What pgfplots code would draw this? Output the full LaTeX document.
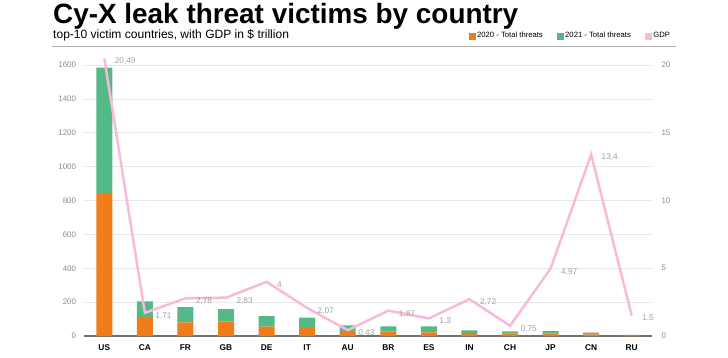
\documentclass[border=0pt]{standalone}
\usepackage{pgfplots}
\usepackage{pgfplotstable}
\pgfplotsset{compat=1.18}
\usepackage{fontspec}
\setmainfont{Liberation Sans}
\definecolor{cOrange}{HTML}{F07D1A}
\definecolor{cGreen}{HTML}{55B887}
\definecolor{cPink}{HTML}{F8B9DA}
\definecolor{cTick}{HTML}{8A8A8A}
\definecolor{cLab}{HTML}{A0A0A0}
\definecolor{cGrid}{HTML}{E8E8E8}
\definecolor{cBase}{HTML}{707070}
\definecolor{cRule}{HTML}{B0B0B0}

\pgfplotstableread{
x t2020 t2021 gdp lab
0  845 740 20.49 20,49
1  113  91  1.71 1,71
2   80  91  2.78 2,78
3   86  73  2.83 2,83
4   55  63  4.00 4
5   47  61  2.07 2,07
6   29  34  0.43 0,43
7   27  30  1.87 1,87
8   22  35  1.30 1,3
9   18  15  2.72 2,72
10  14  14  0.75 0,75
11  16  13  4.97 4,97
12   9  11 13.40 13,4
13   4   2  1.50 1,5
}\data

\begin{document}
\begin{tikzpicture}[x=1bp,y=1bp]
\path[use as bounding box] (0,0) rectangle (728,357);
\node[anchor=base west, inner sep=0pt, font=\fontsize{28}{30}\selectfont\bfseries] at (53,333.5) {Cy-X leak threat victims by country};
\node[anchor=base west, inner sep=0pt, font=\fontsize{12.1}{14}\selectfont] at (53,319) {top-10 victim countries, with GDP in \$ trillion};
\draw[cRule, line width=1.5bp] (52,310.3) -- (676,310.3);

\begin{axis}[
  at={(84bp,21bp)}, anchor=south west,
  width=568bp, height=287.9bp, scale only axis,
  xmin=-0.5, xmax=13.5, ymin=0, ymax=1700,
  ybar stacked, bar width=16bp,
  xtick=data, xticklabels={US,CA,FR,GB,DE,IT,AU,BR,ES,IN,CH,JP,CN,RU},
  ytick={0,200,...,1600},
  ymajorgrids, grid style={cGrid, line width=0.8bp},
  axis y line*=left, axis x line*=bottom,
  y axis line style={draw=none},
  x axis line style={cBase, line width=1.5bp, -},
  major tick length=0pt,
  /pgf/number format/1000 sep={},
  /pgf/number format/assume math mode=true,
  yticklabel style={font=\fontsize{8}{9}\selectfont, text=cTick, xshift=-4.4bp},
  xticklabel style={font=\fontsize{8.4}{9}\selectfont\bfseries, text=black, yshift=-5.3bp},
  clip=false,
]
\addplot[fill=cOrange, draw=none] table[x=x, y=t2020]{\data};
\addplot[fill=cGreen, draw=none] table[x=x, y=t2021]{\data};
\end{axis}

\begin{axis}[
  at={(84bp,21bp)}, anchor=south west,
  width=568bp, height=287.9bp, scale only axis,
  xmin=-0.5, xmax=13.5, ymin=0, ymax=21.25,
  axis y line*=right, axis x line=none,
  y axis line style={draw=none},
  ytick={0,5,...,20},
  major tick length=0pt,
  /pgf/number format/assume math mode=true,
  yticklabel style={font=\fontsize{8}{9}\selectfont, text=cTick, xshift=6bp},
  clip=false,
  legend style={at={(1.035,1.043)}, anchor=east, draw=none, fill=none,
    inner sep=0pt, outer sep=0pt,
    font=\fontsize{7.7}{9}\selectfont,
    /tikz/every even column/.append style={column sep=12bp}},
  legend columns=3, legend cell align=left,
  legend image code/.code={\fill[#1] (0bp,-3bp) rectangle (6bp,3bp);},
]
\addlegendimage{cOrange}
\addlegendentry{2020 - Total threats}
\addlegendimage{cGreen}
\addlegendentry{2021 - Total threats}
\addlegendimage{cPink}
\addlegendentry{GDP}
\addplot[forget plot, cPink, line width=2.5bp, mark=none,
  nodes near coords, point meta=explicit symbolic,
  every node near coord/.style={anchor=west, font=\fontsize{8.3}{9}\selectfont, text=cLab, xshift=6bp, yshift=-3bp}]
  table[x=x, y=gdp, meta=lab]{\data};
\end{axis}
\end{tikzpicture}
\end{document}
